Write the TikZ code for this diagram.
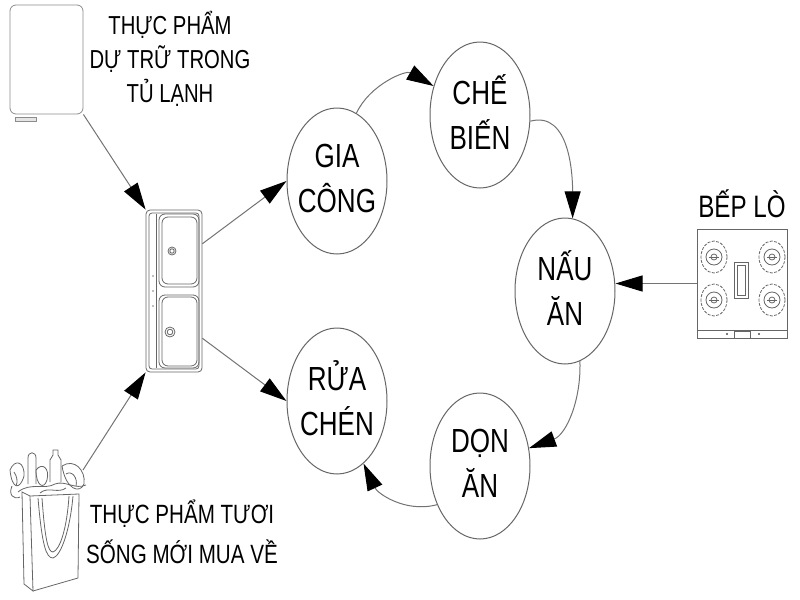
\documentclass[tikz,border=0pt]{standalone}
\usepackage{fontspec}
\newfontfamily\diagfont{Liberation Sans}[FakeStretch=0.78]
\usetikzlibrary{shapes.geometric,arrows.meta}

\begin{document}
\begin{tikzpicture}[x=0.5pt,y=-0.5pt]
	\tikzset{stage/.style={ellipse,draw=black!60,line width=0.5pt,minimum width=50pt,minimum height=73pt,inner xsep=-2.5pt,inner ysep=0pt,align=center,font=\diagfont\fontsize{16.7}{22.5}\selectfont,execute at begin node=\vphantom{Ế},execute at end node=\vphantom{Ạ}}}
	\tikzset{caption/.style={align=center,inner sep=0pt,execute at begin node=\vphantom{Ế},execute at end node=\vphantom{Ạ}}}
	\tikzset{sketch/.style={draw=black!60,line width=0.4pt,inner sep=0pt}}
	\tikzset{flow/.style={draw=black!55,line width=0.5pt,-{Triangle[length=13.5pt,width=8pt,color=black]}}}
	\useasboundingbox (0,0) rectangle (800,600);
	% fridge
	\node[sketch,draw=black!45,rounded corners=3pt,minimum width=36.5pt,minimum height=54.5pt] (fridge) at (46.5,59.5) {};
	\draw[sketch,draw=black!45,fill=black!10] (15,117) rectangle (36,121);
	\node[caption,font=\diagfont\fontsize{13}{17}\selectfont] (fridgetext) at (170,58.5) {THỰC PHẨM\\DỰ TRỮ TRONG\\TỦ LẠNH};
	% sink
	\node[sketch,rounded corners=2pt,minimum width=28pt,minimum height=81pt] (sink) at (174,291) {};
	\draw[sketch,rounded corners=1.5pt] (149,213) rectangle (199,369);
	\draw[sketch] (156,214) -- (156,368);
	\draw[sketch,rounded corners=3pt] (159,214) rectangle (199,287);
	\draw[sketch,rounded corners=3pt] (162,217) rectangle (197,284);
	\draw[sketch,rounded corners=3pt] (159,295) rectangle (199,368);
	\draw[sketch,rounded corners=3pt] (162,297) rectangle (197,366);
	\draw[sketch] (172,251) circle[radius=4] (172,251) circle[radius=2.2];
	\draw[sketch] (170,332) circle[radius=5] (170,332) circle[radius=2.8];
	\fill[black!50] (153,276) circle[radius=0.9] (153,291) circle[radius=0.9] (153,306) circle[radius=0.9];
	% shopping bag
	\coordinate (bag) at (83,470);
	\draw[sketch] (22,492) -- (30,496) -- (33,591) -- (24,584) -- cycle;
	\draw[sketch] (30,496) -- (79,494) -- (78,578) -- (33,591);
	\draw[sketch] (38,498) .. controls (42,545) and (46,558) .. (53,558) .. controls (61,556) and (70,530) .. (73,496);
	\draw[sketch] (42,498) .. controls (45,540) and (48,552) .. (53,552) .. controls (60,550) and (67,528) .. (69,496);
	\draw[sketch] (28,484) -- (28,458) .. controls (28,451) and (36,451) .. (36,458) -- (36,484);
	\draw[sketch] (50,482) -- (50,460) -- (53,455) -- (53,450) -- (58,450) -- (58,455) -- (61,460) -- (61,482);
	\draw[sketch] (10,470) .. controls (15,458) and (25,462) .. (24,476) .. controls (20,490) and (12,490) .. (10,470);
	\draw[sketch] (36,470) .. controls (42,462) and (50,468) .. (47,480) .. controls (44,490) and (36,486) .. (36,470);
	\draw[sketch] (62,466) .. controls (74,458) and (86,470) .. (84,484) .. controls (80,494) and (66,490) .. (62,466);
	\draw[sketch] (66,474) .. controls (72,470) and (78,478) .. (76,486);
	\draw[sketch] (14,472) .. controls (17,476) and (18,482) .. (16,486);
	\draw[sketch] (12,486) .. controls (8,495) and (14,500) .. (20,497);
	\draw[sketch] (18,492) .. controls (30,482) and (45,490) .. (55,484) .. controls (65,480) and (75,490) .. (86,485);
	\draw[sketch] (40,493) .. controls (48,486) and (58,494) .. (66,488);
	\node[caption,font=\diagfont\fontsize{13.2}{20}\selectfont] (bagtext) at (182,533.4) {THỰC PHẨM TƯƠI\\SỐNG MỚI MUA VỀ};
	% stove
	\node[sketch,minimum width=45pt,minimum height=54.5pt] (stove) at (742,283.5) {};
	\draw[sketch] (697,330) -- (787,330);
	\draw[sketch] (734,331) rectangle (750,338);
	\fill[black!70] (727,334) circle[radius=1.2] (759,334) circle[radius=1.2];
	\draw[sketch] (734,262) rectangle (748,298) (737,265) rectangle (745,295);
	\draw[sketch,dash pattern=on 1.5pt off 0.7pt] (714,257) ellipse[x radius=13,y radius=16] (772,257) ellipse[x radius=13,y radius=16] (714,300) ellipse[x radius=13,y radius=16] (772,300) ellipse[x radius=13,y radius=16];
	\draw[sketch] (714,257) circle[radius=8] (772,257) circle[radius=8] (714,300) circle[radius=8] (772,300) circle[radius=8];
	\draw[sketch] (714,257) circle[radius=3] (772,257) circle[radius=3] (714,300) circle[radius=3] (772,300) circle[radius=3];
	\draw[sketch] (709,257) -- (719,257) (767,257) -- (777,257) (709,300) -- (719,300) (767,300) -- (777,300);
	\node[caption,font=\diagfont\fontsize{15.5}{19}\selectfont] (stovetext) at (742,205.6) {BẾP LÒ};
	% stages
	\node[stage] (gia) at (337,181) {GIA\\CÔNG};
	\node[stage] (che) at (480,115) {CHẾ\\BIẾN};
	\node[stage] (nau) at (565,291) {NẤU\\ĂN};
	\node[stage] (don) at (480,466) {DỌN\\ĂN};
	\node[stage] (rua) at (337,401) {RỬA\\CHÉN};
	% connectors
	\draw[flow] (fridge.south east) -- (sink.north west);
	\draw[flow] (bag) -- (sink.south west);
	\draw[flow] (sink.59) -- (gia.180);
	\draw[flow] (sink.-59) -- (rua.180);
	\draw[flow] (gia.74) to[out=65,in=150] (che.148);
	\draw[flow] (che.-7) to[out=15,in=90] (nau.84);
	\draw[flow] (nau.-78) to[out=-88,in=20] (don.20);
	\draw[flow] (don.222) to[out=195,in=-65] (rua.-67);
	\draw[flow] (stove.west) -- (nau.east |- stove.west);
\end{tikzpicture}
\end{document}
